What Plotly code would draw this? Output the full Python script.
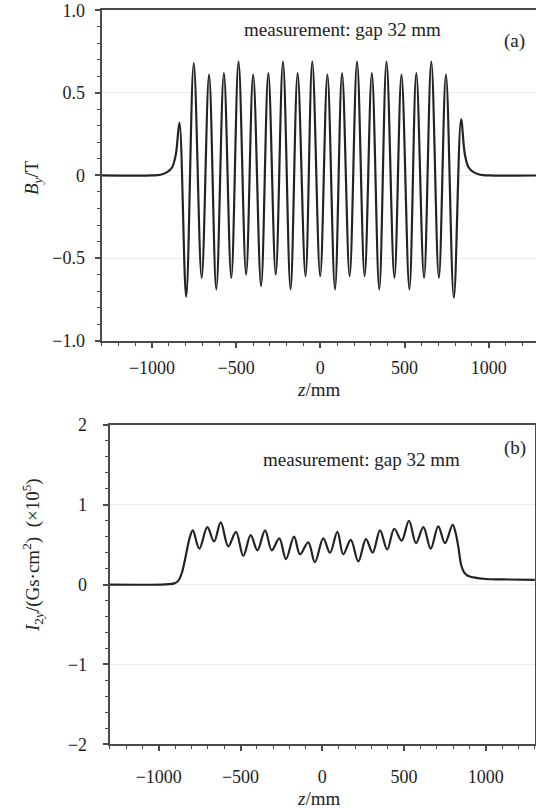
import plotly.graph_objects as go

# ---------------- data: panel (a) B_y field ----------------
B_tail_left_z = [-1300, -1000, -950, -910, -880, -858]
B_tail_left_v = [0.0, 0.0, 0.004, 0.02, 0.05, 0.13]
B_pos_z = [-837, -752, -661, -573, -486, -399, -309, -222, -135, -48,
           42, 129, 218, 306, 393, 482, 570, 659, 746, 836]
B_pos_v = [0.32, 0.68, 0.61, 0.62, 0.69, 0.61, 0.62, 0.69, 0.62, 0.69,
           0.61, 0.62, 0.69, 0.62, 0.69, 0.61, 0.62, 0.69, 0.61, 0.34]
B_neg_z = [-797, -705, -618, -529, -441, -352, -265, -177, -88, -1,
           87, 174, 263, 350, 440, 529, 616, 704, 793]
B_neg_v = [-0.735, -0.62, -0.69, -0.62, -0.60, -0.67, -0.60, -0.69, -0.61, -0.61,
           -0.69, -0.61, -0.61, -0.69, -0.62, -0.69, -0.62, -0.62, -0.74]
B_tail_right_z = [858, 880, 910, 950, 1000, 1300]
B_tail_right_v = [0.13, 0.05, 0.02, 0.004, 0.0, 0.0]

# ---------------- data: panel (b) second field integral ----------------
I_tail_left_z = [-1300, -980, -940, -905, -880, -860, -843, -828, -812]
I_tail_left_v = [0.0, 0.0, 0.005, 0.015, 0.05, 0.14, 0.28, 0.43, 0.58]
I_max_z = [-792, -703, -621, -528, -438, -350, -263, -173, -86, 6,
           92, 174, 267, 353, 440, 530, 618, 709, 797]
I_max_v = [0.68, 0.72, 0.78, 0.66, 0.62, 0.68, 0.58, 0.60, 0.53, 0.58,
           0.66, 0.56, 0.57, 0.68, 0.70, 0.80, 0.72, 0.73, 0.75]
I_min_z = [-752, -662, -575, -483, -397, -309, -222, -136, -45,
           47, 128, 220, 308, 397, 485, 573, 663, 750]
I_min_v = [0.45, 0.54, 0.48, 0.36, 0.43, 0.43, 0.32, 0.38, 0.28,
           0.40, 0.38, 0.29, 0.40, 0.44, 0.55, 0.52, 0.45, 0.52]
I_tail_right_z = [815, 832, 850, 868, 890, 925, 1000, 1100, 1300]
I_tail_right_v = [0.65, 0.47, 0.24, 0.15, 0.11, 0.09, 0.07, 0.065, 0.06]

# ---------------- tick labels ----------------
x_tickvals = [-1000, -500, 0, 500, 1000]
x_ticktext = ["\u22121000", "\u2212500", "0", "500", "1000"]
ya_tickvals = [-1.0, -0.5, 0, 0.5, 1.0]
ya_ticktext = ["\u22121.0", "\u22120.5", "0", "0.5", "1.0"]
yb_tickvals = [-2, -1, 0, 1, 2]
yb_ticktext = ["\u22122", "\u22121", "0", "1", "2"]


def merge(*pairs):
    pts = []
    for zs, vs in pairs:
        pts.extend(zip(zs, vs))
    pts.sort(key=lambda p: p[0])
    return [p[0] for p in pts], [p[1] for p in pts]


Bz, Bv = merge((B_tail_left_z, B_tail_left_v), (B_pos_z, B_pos_v),
               (B_neg_z, B_neg_v), (B_tail_right_z, B_tail_right_v))
Iz, Iv = merge((I_tail_left_z, I_tail_left_v), (I_max_z, I_max_v),
               (I_min_z, I_min_v), (I_tail_right_z, I_tail_right_v))

W, H = 536, 808
FONT = "Liberation Serif"
INK = "#222222"
AX = "#4a4a4a"


def px(x):
    return x / W


def py(y):
    return 1 - y / H


fig = go.Figure()
fig.add_trace(go.Scatter(x=Bz, y=Bv, mode="lines", xaxis="x", yaxis="y",
                         line=dict(color="#232323", width=2.2, shape="spline", smoothing=1.0),
                         showlegend=False, hoverinfo="skip"))
fig.add_trace(go.Scatter(x=Iz, y=Iv, mode="lines", xaxis="x2", yaxis="y2",
                         line=dict(color="#232323", width=2.2, shape="spline", smoothing=1.0),
                         showlegend=False, hoverinfo="skip"))

tickfont = dict(family=FONT, size=18, color=INK)

common_x = dict(showline=True, linecolor=AX, linewidth=2, mirror=True,
                ticks="outside", ticklen=5, tickwidth=1.5, tickcolor=AX,
                tickvals=x_tickvals, ticktext=x_ticktext, tickfont=tickfont,
                showgrid=False, zeroline=False, automargin=False,
                minor=dict(ticks="outside", dtick=100, ticklen=3, tickwidth=1.2, tickcolor=AX))

fig.update_layout(
    width=W, height=H,
    margin=dict(l=0, r=0, t=0, b=0),
    paper_bgcolor="white", plot_bgcolor="white",
    xaxis=dict(domain=[px(101.5), 1.0], range=[-1300, 1281], anchor="y",
               ticklabelstandoff=5, **common_x),
    yaxis=dict(domain=[py(340.6), py(10.3)], range=[-1, 1], anchor="x",
               showline=True, linecolor=AX, linewidth=2, mirror=False,
               ticks="outside", ticklen=5, tickwidth=1.5, tickcolor=AX,
               tickvals=ya_tickvals, ticktext=ya_ticktext, tickfont=tickfont,
               showgrid=True, gridcolor="#ebebeb", gridwidth=1, zeroline=False,
               ticklabelstandoff=6, automargin=False,
               minor=dict(ticks="outside", dtick=0.1, ticklen=3, tickwidth=1.2,
                          tickcolor=AX, showgrid=False)),
    xaxis2=dict(domain=[px(109.7), px(534.9)], range=[-1300, 1300], anchor="y2",
                ticklabelstandoff=10, **common_x),
    yaxis2=dict(domain=[py(744.2), py(425.0)], range=[-2, 2], anchor="x2",
                showline=True, linecolor=AX, linewidth=2, mirror=True,
                ticks="outside", ticklen=5, tickwidth=1.5, tickcolor=AX,
                tickvals=yb_tickvals, ticktext=yb_ticktext, tickfont=tickfont,
                showgrid=True, gridcolor="#ebebeb", gridwidth=1, zeroline=False,
                ticklabelstandoff=12, automargin=False,
                minor=dict(ticks="outside", dtick=0.2, ticklen=3, tickwidth=1.2,
                           tickcolor=AX, showgrid=False)),
)

annfont = dict(family=FONT, size=19, color=INK)
anns = [
    dict(text="measurement: gap 32 mm", x=px(342), y=py(29)),
    dict(text="(a)", x=px(514.5), y=py(41)),
    dict(text="measurement: gap 32 mm", x=px(361), y=py(460)),
    dict(text="(b)", x=px(515), y=py(448)),
    dict(text="<i>z</i>/mm", x=px(318), y=py(389)),
    dict(text="<i>z</i>/mm", x=px(318), y=py(798)),
    dict(text="<i>B</i><sub><i>y</i></sub>/T", x=px(33), y=py(178), textangle=-90),
    dict(text="<i>I</i><sub>2<i>y</i></sub>/(Gs\u00b7cm<sup>2</sup>)  (\u00d710<sup>5</sup>)",
         x=px(32), y=py(555), textangle=-90),
]
for a in anns:
    fig.add_annotation(xref="paper", yref="paper", xanchor="center", yanchor="middle",
                       showarrow=False, font=annfont, **a)

fig.write_html("out.html", config={"displayModeBar": False},
               post_script="document.body.style.margin='0px';document.body.style.overflow='hidden';")
